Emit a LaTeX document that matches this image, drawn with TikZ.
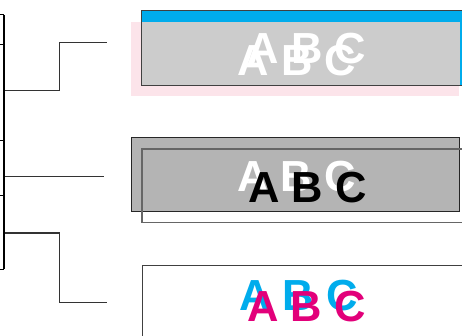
\documentclass[tikz,border=0pt]{standalone}
\usepackage{fontspec}
\newfontfamily\abcfont{Liberation Sans}
\definecolor{pcyan}{RGB}{0,172,236}
\definecolor{pmag}{RGB}{226,0,122}
\definecolor{lpink}{RGB}{252,228,234}
\definecolor{gA}{RGB}{204,204,204}
\definecolor{gB}{RGB}{180,180,180}
\tikzset{
  abc/.style={inner sep=0pt, anchor=base, font=\abcfont\bfseries\fontsize{43.5}{43.5}\selectfont},
  conn/.style={draw=black!80, line width=1pt},
  tick/.style={draw=black, line width=1pt},
  boxline/.style={draw=black!75, line width=1pt}
}
\begin{document}
\begin{tikzpicture}[x=1pt,y=-1pt]
\useasboundingbox (0,0) rectangle (462,336);
\clip (0,0) rectangle (462,336);
\fill[white] (0,0) rectangle (462,336);
% left bracket
\coordinate (bt) at (4,15);
\coordinate (bb) at (4,269);
\draw[black, line width=2pt] (bt) -- (bb);
\foreach \yy in {15,45,141,196,269} \draw[tick] (0,\yy) -- (4,\yy);
% connectors
\coordinate (c1s) at (5,91);
\coordinate (c1e) at (107,43);
\coordinate (c2s) at (5,177);
\coordinate (c2e) at (104,177);
\coordinate (c3s) at (5,233);
\coordinate (c3e) at (107,302);
\draw[conn] (c1s) -- (59,91) -- (59,43) -- (c1e);
\draw[conn] (c2s) -- (c2e);
\draw[conn] (c3s) -- (59,233) -- (59,302) -- (c3e);
% box 1
\fill[lpink] (131,22) rectangle (459,96);
\filldraw[fill=pcyan, boxline] (141.5,11) rectangle (470,85.5);
\fill[gA] (142,22) rectangle (460,85);
\node[abc, text=white] (t1a) at (297,76) {A B C};
\node[abc, text=white] (t1b) at (307,64) {A B C};
% box 2
\filldraw[fill=gB, draw=black!85, line width=1pt] (131,138) rectangle (459.5,212);
\draw[draw=black!60, line width=1.2pt] (142,149) rectangle (470,222.5);
\node[abc, text=white] (t2a) at (296.5,192) {A B C};
\node[abc, text=black] (t2b) at (307.5,203) {A B C};
% box 3
\filldraw[fill=white, boxline] (142,265.5) rectangle (470,345);
\node[abc, text=pcyan] (t3a) at (298.5,310) {A B C};
\node[abc, text=pmag] (t3b) at (306.5,321) {A B C};
\end{tikzpicture}
\end{document}
